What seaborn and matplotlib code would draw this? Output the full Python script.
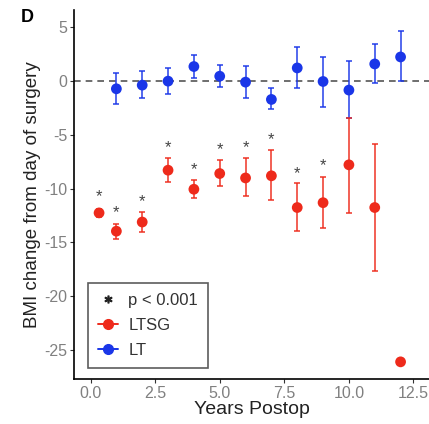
import matplotlib
matplotlib.use("Agg")
import matplotlib.pyplot as plt
from matplotlib.lines import Line2D
import seaborn as sns
import pandas as pd
import numpy as np

sns.set_theme(style="ticks")
plt.rcParams['font.family'] = ['Liberation Sans', 'DejaVu Sans']
plt.rcParams['axes.unicode_minus'] = False

# LT group
lt_years = [1, 2, 3, 4, 5, 6, 7, 8, 9, 10, 11, 12]
lt_mean = [-0.71, -0.37, 0.0, 1.36, 0.46, -0.09, -1.7, 1.23, -0.03, -0.83, 1.6, 2.25]
lt_upper = [0.74, 0.9, 1.23, 2.44, 1.5, 1.39, -0.68, 3.15, 2.22, 1.85, 3.43, 4.63]
lt_lower = [-2.1, -1.55, -1.2, 0.25, -0.56, -1.57, -2.62, -0.68, -2.38, -3.45, -0.15, -0.03]

# LTSG group
ltsg_years = [0.33, 1, 2, 3, 4, 5, 6, 7, 8, 9, 10, 11, 12]
ltsg_mean = [-12.25, -13.95, -13.1, -8.28, -10.05, -8.59, -9.0, -8.8, -11.75, -11.3, -7.78, -11.75, -26.1]
ltsg_upper = [-11.85, -13.3, -12.2, -7.13, -9.15, -7.35, -7.19, -6.42, -9.5, -8.9, -3.47, -5.8, -26.1]
ltsg_lower = [-12.65, -14.7, -14.0, -9.37, -10.86, -9.77, -10.7, -11.07, -13.95, -13.7, -12.3, -17.67, -26.1]

# significance markers
star_years = [0.33, 1, 2, 3, 4, 5, 6, 7, 8, 9]
star_y = [-10.76, -12.2, -11.16, -6.2, -8.2, -6.36, -6.2, -5.43, -8.59, -7.88]

red = "#ee2a1b"
blue = "#1a36e8"

df = pd.DataFrame({
    "Years": lt_years + ltsg_years,
    "BMI": lt_mean + ltsg_mean,
    "Group": ["LT"] * len(lt_years) + ["LTSG"] * len(ltsg_years),
})

fig = plt.figure(figsize=(4.29, 4.24), dpi=100)
ax = fig.add_axes([0.1725, 0.106, 0.8275, 0.87])

ax.axhline(0, color="#555555", linestyle=(0, (4, 3)), linewidth=1.2, zorder=1)

def draw_err(x, m, lo, hi, color):
    m = np.array(m); lo = np.array(lo); hi = np.array(hi)
    ax.errorbar(x, m, yerr=[m - lo, hi - m], fmt="none", ecolor=color,
                elinewidth=1.4, capsize=2, capthick=1.4, alpha=0.75, zorder=2)

draw_err(lt_years, lt_mean, lt_lower, lt_upper, blue)
draw_err(ltsg_years, ltsg_mean, ltsg_lower, ltsg_upper, red)

sns.scatterplot(data=df, x="Years", y="BMI", hue="Group",
                palette={"LT": blue, "LTSG": red}, s=60, edgecolor="none",
                legend=False, ax=ax, zorder=3)

for xs, ys in zip(star_years, star_y):
    ax.text(xs, ys, "*", ha="center", va="center", fontsize=12, color="#444444")

ax.set_xlim(-0.64, 13.1)
ax.set_ylim(-27.7, 6.6)
ax.set_xticks([0, 2.5, 5, 7.5, 10, 12.5])
ax.set_xticklabels(["0.0", "2.5", "5.0", "7.5", "10.0", "12.5"])
ax.set_yticks([5, 0, -5, -10, -15, -20, -25])
ax.tick_params(axis="both", colors="#333333", labelcolor="#808080",
               labelsize=11.5, length=3, width=0.8, direction="out", pad=2)
for s in ["top", "right"]:
    ax.spines[s].set_visible(False)
for s in ["left", "bottom"]:
    ax.spines[s].set_color("black")
    ax.spines[s].set_linewidth(1.2)

ax.set_xlabel("Years Postop", fontsize=14, color="#222222", labelpad=0)
ax.set_ylabel("BMI change from day of surgery", fontsize=13.5, color="#222222", labelpad=2)

handles = [
    Line2D([], [], marker="$*$", linestyle="none", color="#222222", markersize=5),
    Line2D([], [], marker="o", color=red, markersize=7, linewidth=1.4),
    Line2D([], [], marker="o", color=blue, markersize=7, linewidth=1.4),
]
leg = ax.legend(handles, ["p < 0.001", "LTSG", "LT"], loc="lower left",
                bbox_to_anchor=(0.04, 0.03), borderaxespad=0, fontsize=12,
                frameon=True, fancybox=False, edgecolor="#333333",
                borderpad=0.6, handlelength=1.2, handletextpad=0.6,
                labelspacing=0.6)
leg.get_frame().set_linewidth(1.2)
for t in leg.get_texts():
    t.set_color("#333333")

fig.text(27 / 429, 1 - 18 / 424, "D", fontsize=13, fontweight="bold",
         ha="center", va="center", color="black")

fig.savefig("out.png", dpi=100)
